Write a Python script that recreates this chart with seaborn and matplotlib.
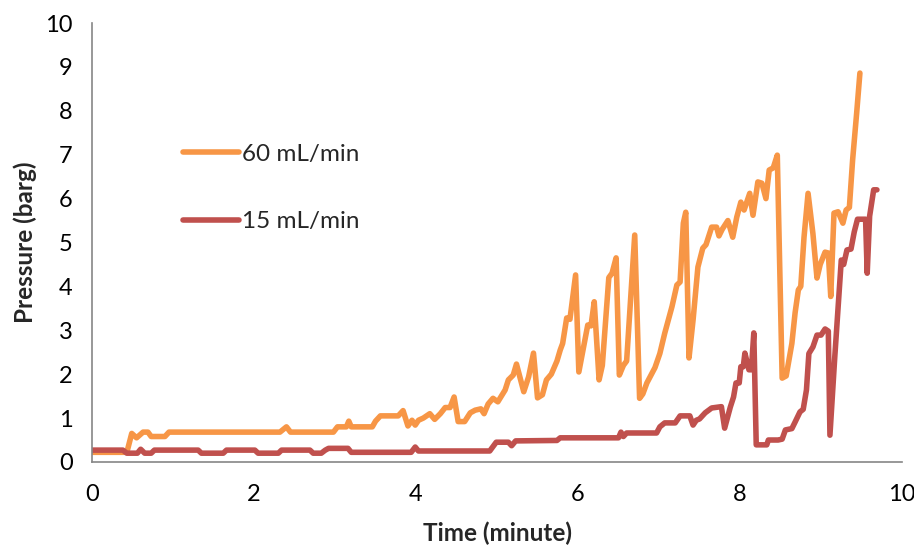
import matplotlib
matplotlib.use("Agg")
import matplotlib.pyplot as plt
import seaborn as sns
import pandas as pd
from matplotlib.lines import Line2D

# 60 mL/min run: time (minute) and pressure (barg)
time_60 = [0.00, 0.43, 0.49, 0.55, 0.63, 0.69, 0.73, 0.90, 0.95, 2.32,
           2.40, 2.45, 2.98, 3.03, 3.14, 3.17, 3.20, 3.46, 3.50, 3.56,
           3.78, 3.84, 3.90, 3.95, 3.99, 4.03, 4.09, 4.17, 4.23, 4.30,
           4.36, 4.42, 4.47, 4.52, 4.60, 4.67, 4.73, 4.80, 4.84, 4.89,
           4.95, 5.01, 5.10, 5.14, 5.20, 5.24, 5.33, 5.39, 5.45, 5.50,
           5.56, 5.61, 5.67, 5.74, 5.78, 5.81, 5.86, 5.90, 5.97, 6.01,
           6.12, 6.16, 6.20, 6.26, 6.30, 6.38, 6.42, 6.47, 6.51, 6.56,
           6.60, 6.70, 6.76, 6.80, 6.85, 6.95, 7.01, 7.07, 7.16, 7.22,
           7.26, 7.30, 7.33, 7.37, 7.42, 7.48, 7.54, 7.58, 7.65, 7.71,
           7.74, 7.78, 7.85, 7.91, 7.96, 8.01, 8.05, 8.12, 8.16, 8.22,
           8.27, 8.32, 8.36, 8.41, 8.46, 8.52, 8.57, 8.64, 8.68, 8.72,
           8.75, 8.79, 8.84, 8.90, 8.95, 8.99, 9.05, 9.09, 9.12, 9.16,
           9.21, 9.27, 9.31, 9.35, 9.39, 9.44, 9.48]
pressure_60 = [0.22, 0.22, 0.65, 0.55, 0.68, 0.68, 0.58, 0.58, 0.68, 0.68,
               0.80, 0.68, 0.68, 0.80, 0.80, 0.93, 0.80, 0.80, 0.93, 1.05,
               1.05, 1.17, 0.82, 0.95, 0.84, 0.95, 1.00, 1.10, 0.97, 1.10,
               1.24, 1.24, 1.48, 0.92, 0.92, 1.12, 1.18, 1.21, 1.10, 1.32,
               1.45, 1.37, 1.64, 1.87, 1.98, 2.23, 1.60, 1.94, 2.48, 1.46,
               1.53, 1.87, 2.00, 2.30, 2.55, 2.70, 3.28, 3.25, 4.26, 2.05,
               3.12, 3.10, 3.65, 1.87, 2.20, 4.20, 4.30, 4.65, 1.98, 2.20,
               2.30, 5.17, 1.45, 1.55, 1.80, 2.15, 2.47, 2.93, 3.54, 4.03,
               4.10, 5.44, 5.69, 2.37, 3.23, 4.44, 4.87, 4.95, 5.35, 5.35,
               5.15, 5.30, 5.50, 5.12, 5.58, 5.92, 5.74, 6.12, 5.62, 6.38,
               6.35, 6.00, 6.65, 6.70, 6.99, 1.91, 1.96, 2.70, 3.40, 3.92,
               4.00, 5.12, 6.12, 5.20, 4.19, 4.50, 4.78, 4.76, 3.77, 5.67,
               5.70, 5.44, 5.74, 5.80, 6.88, 7.95, 8.86]

# 15 mL/min run
time_15 = [0.00, 0.38, 0.43, 0.56, 0.60, 0.65, 0.73, 0.77, 1.31, 1.35,
           1.62, 1.66, 2.01, 2.05, 2.30, 2.34, 2.69, 2.73, 2.83, 2.88,
           2.92, 3.16, 3.20, 3.94, 3.99, 4.03, 4.91, 4.99, 5.14, 5.18,
           5.23, 5.74, 5.78, 6.50, 6.53, 6.56, 6.60, 6.97, 7.01, 7.07,
           7.20, 7.26, 7.38, 7.42, 7.46, 7.50, 7.57, 7.65, 7.77, 7.81,
           7.88, 7.92, 7.95, 7.99, 8.01, 8.04, 8.06, 8.11, 8.14, 8.17,
           8.20, 8.33, 8.35, 8.47, 8.52, 8.56, 8.64, 8.68, 8.74, 8.78,
           8.82, 8.85, 8.90, 8.95, 9.00, 9.05, 9.09, 9.11, 9.17, 9.25,
           9.28, 9.32, 9.37, 9.41, 9.45, 9.55, 9.57, 9.60, 9.65, 9.69]
pressure_15 = [0.27, 0.27, 0.20, 0.20, 0.29, 0.20, 0.20, 0.27, 0.27, 0.20,
               0.20, 0.27, 0.27, 0.20, 0.20, 0.27, 0.27, 0.20, 0.20, 0.27,
               0.31, 0.31, 0.22, 0.22, 0.34, 0.25, 0.25, 0.45, 0.45, 0.37,
               0.48, 0.49, 0.55, 0.55, 0.68, 0.58, 0.66, 0.66, 0.80, 0.89,
               0.89, 1.05, 1.05, 0.84, 0.95, 0.98, 1.12, 1.23, 1.26, 0.77,
               1.25, 1.48, 1.80, 1.80, 2.17, 2.17, 2.48, 2.10, 2.10, 2.94,
               0.39, 0.39, 0.50, 0.50, 0.52, 0.73, 0.76, 0.91, 1.14, 1.20,
               1.64, 2.47, 2.62, 2.89, 2.89, 3.03, 2.98, 0.61, 2.40, 4.60,
               4.50, 4.83, 4.85, 5.24, 5.53, 5.53, 4.30, 5.60, 6.20, 6.20]

series_names = ["60 mL/min", "15 mL/min"]
series_colors = {"60 mL/min": "#F79646", "15 mL/min": "#C0504D"}
x_ticks = [0, 2, 4, 6, 8, 10]
y_ticks = list(range(0, 11))

df = pd.concat([
    pd.DataFrame({"Time": time_60, "Pressure": pressure_60, "Flow": series_names[0]}),
    pd.DataFrame({"Time": time_15, "Pressure": pressure_15, "Flow": series_names[1]}),
], ignore_index=True)

sns.set_style("white")
plt.rcParams["font.family"] = ["Lato", "DejaVu Sans"]

fig = plt.figure(figsize=(9.14, 5.48), dpi=100)
ax = fig.add_axes([0.1007, 0.157, 0.8862, 0.801])

sns.lineplot(data=df, x="Time", y="Pressure", hue="Flow", palette=series_colors,
             hue_order=series_names, estimator=None, sort=False, linewidth=4.0,
             legend=False, ax=ax)
for ln in ax.get_lines():
    ln.set_solid_joinstyle("round")
    ln.set_solid_capstyle("round")

ax.set_xlim(0, 10)
ax.set_ylim(0, 10)
ax.set_xticks(x_ticks)
ax.set_yticks(y_ticks)
ax.tick_params(axis="both", labelsize=17, colors="#868686", labelcolor="black",
               length=5, width=1.2, direction="out")
ax.tick_params(axis="x", pad=11)
ax.tick_params(axis="y", pad=9)

for side in ["top", "right"]:
    ax.spines[side].set_visible(False)
for side in ["left", "bottom"]:
    ax.spines[side].set_color("#868686")
    ax.spines[side].set_linewidth(1.2)

ax.set_xlabel("Time (minute)", fontsize=17.5, fontweight="bold", labelpad=12)
ax.set_ylabel("Pressure (barg)", fontsize=17.5, fontweight="bold", labelpad=6)

handles = [Line2D([], [], color=series_colors[n], linewidth=4.0, solid_capstyle="round")
           for n in series_names]
ax.legend(handles, series_names, loc="center left", bbox_to_anchor=(0.112, 0.624),
          frameon=False, fontsize=17.5, handlelength=2.3, handletextpad=0.12,
          labelspacing=1.9, borderpad=0, borderaxespad=0)

fig.savefig("out.png", dpi=100)
